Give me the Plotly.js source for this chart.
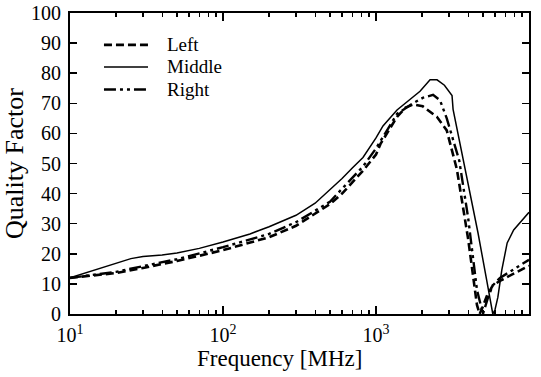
<!DOCTYPE html>
<html>
<head>
<meta charset="utf-8">
<script src="https://cdn.plot.ly/plotly-3.0.1.min.js"></script>
<style>html,body{margin:0;padding:0;background:#fff;}#chart{width:541px;height:377px;}</style>
</head>
<body>
<div id="chart"></div>
<script>
// Frequency [MHz] and quality factor values
var leftFreq = [10,20,30,50,100,200,300,500,600,822,1000,1070,1372,1560,1750,2020,2500,2900,3380,4000,4570,4760,5000,5300,5800,6460,8000,10000];
var leftQ    = [12,13.6,15.3,17.6,21.2,25.5,29.3,36.5,40,47.6,53,56.5,65.5,68.6,69.6,69,65.5,61,48,25,3,0,2.5,6,9.5,11,13.5,16];

var middleFreq = [10,15,20,25,30,40,50,70,100,150,200,300,400,500,600,700,822,1000,1111,1372,1700,1940,2256,2506,2800,2958,3140,3190,4000,4640,5300,5800,6000,6260,6640,7200,7940,9000,10000];
var middleQ    = [12,14.8,17,18.4,19.1,19.6,20.3,21.8,23.9,26.6,29,32.8,36.8,41.2,45,48.5,52,58.5,62.5,67.8,71.5,74,77.8,77.8,76,74.4,72.6,68,43,27,11,0,1.5,5.6,14.6,23.6,27.9,31,33.8];

var rightFreq = [10,20,30,50,100,200,300,500,822,1000,1372,1746,2020,2361,2620,2900,3500,4000,4570,4900,5000,5400,5800,6460,8000,10000];
var rightQ    = [12,14,15.9,18.2,22.2,26.6,30.5,37.3,49,55,66.5,70,71.8,72.8,71,65,51,32,8,2,0,5.5,9.5,12,15,18];

var seriesNames = ['Left','Middle','Right'];
var xTickVals = [10,100,1000,10000];
var xTickText = ['10<sup>1</sup>','10<sup>2</sup>','10<sup>3</sup>','10<sup>4</sup>'];
var yTickVals = [0,10,20,30,40,50,60,70,80,90,100];
var xTitle = 'Frequency [MHz]';
var yTitle = 'Quality Factor';

var FONT = 'Liberation Serif';
var dashLeft = '8px,4px';
var dashRight = '12px,4px,3px,4px,3px,4px';

var traces = [
  {x:leftFreq, y:leftQ, name:seriesNames[0], mode:'lines', line:{color:'#000', width:2.6, dash:dashLeft}},
  {x:middleFreq, y:middleQ, name:seriesNames[1], mode:'lines', line:{color:'#000', width:1.5}},
  {x:rightFreq, y:rightQ, name:seriesNames[2], mode:'lines', line:{color:'#000', width:2.4, dash:dashRight}}
];

// custom legend (paper coordinates)
var legY = [0.894, 0.821, 0.746];
var legDash = [dashLeft, 'solid', dashRight];
var legW = [2.6, 1.5, 2.4];
var shapes = [], annotations = [];
for (var i = 0; i < 3; i++) {
  shapes.push({type:'line', xref:'paper', yref:'paper', x0:0.074, x1:0.170, y0:legY[i], y1:legY[i],
    line:{color:'#000', width:legW[i], dash:legDash[i]}});
  annotations.push({xref:'paper', yref:'paper', x:0.207, y:legY[i], xanchor:'left', yanchor:'middle',
    text:seriesNames[i], showarrow:false, font:{family:FONT, size:19, color:'#000'}});
}
// x-axis title (slightly left of centre as in the reference)
annotations.push({xref:'paper', yref:'paper', x:0.457, y:-0.147, xanchor:'center', yanchor:'middle',
  text:xTitle, showarrow:false, font:{family:FONT, size:23, color:'#000'}});

var layout = {
  width:541, height:377,
  margin:{l:70, r:12, t:13, b:63},
  paper_bgcolor:'#fff', plot_bgcolor:'#fff',
  showlegend:false,
  font:{family:FONT, size:18, color:'#000'},
  xaxis:{
    type:'log', range:[1,4],
    tickmode:'array', tickvals:xTickVals, ticktext:xTickText,
    ticks:'inside', ticklen:8, tickwidth:1.5, tickcolor:'#000',
    minor:{dtick:'D1', ticks:'inside', ticklen:4, tickwidth:1.2, tickcolor:'#000', showgrid:false},
    showline:true, linewidth:2, linecolor:'#000', mirror:'allticks',
    showgrid:false, zeroline:false,
    tickfont:{family:FONT, size:20, color:'#000'},
    ticklabelstandoff:2,
    automargin:false
  },
  yaxis:{
    range:[0,100],
    tickmode:'array', tickvals:yTickVals,
    ticks:'inside', ticklen:7, tickwidth:1.5, tickcolor:'#000',
    showline:true, linewidth:2, linecolor:'#000', mirror:'allticks',
    showgrid:false, zeroline:false,
    tickfont:{family:FONT, size:20, color:'#000'},
    ticklabelstandoff:3,
    title:{text:yTitle, font:{family:FONT, size:26, color:'#000'}, standoff:8},
    automargin:false
  },
  shapes:shapes,
  annotations:annotations
};

Plotly.newPlot('chart', traces, layout, {staticPlot:true, displayModeBar:false});
</script>
</body>
</html>
